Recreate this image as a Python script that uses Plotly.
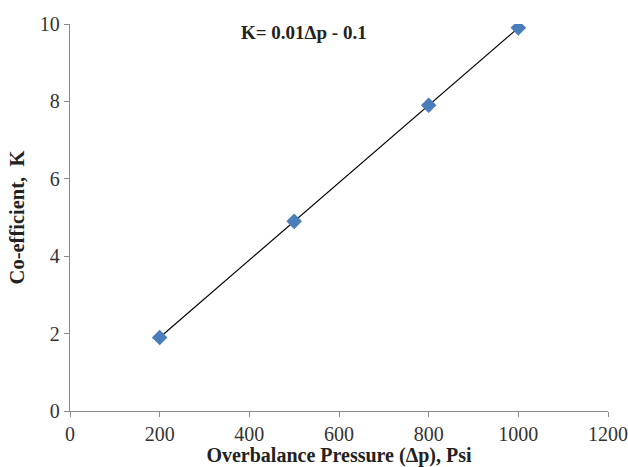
import plotly.graph_objects as go

# Overbalance pressure (psi) and measured coefficient K
pressure = [200, 500, 800, 1000]
coefficient = [1.9, 4.9, 7.9, 9.9]

x_ticks = [0, 200, 400, 600, 800, 1000, 1200]
y_ticks = [0, 2, 4, 6, 8, 10]

serif = "Liberation Serif"

fig = go.Figure()

# Fitted line through the points
fig.add_trace(go.Scatter(
    x=pressure, y=coefficient, mode="lines",
    line=dict(color="black", width=1.2),
    hoverinfo="skip", showlegend=False,
))

# Data points
fig.add_trace(go.Scatter(
    x=pressure, y=coefficient, mode="markers",
    marker=dict(symbol="diamond", size=12, color="#4A7EBB",
                line=dict(color="#4A7EBB", width=0)),
    showlegend=False,
))

axis_common = dict(
    showgrid=False, zeroline=False, showline=True, automargin=False,
    linecolor="#898989", linewidth=1.3,
    ticks="outside", ticklen=5, tickcolor="#898989", tickwidth=1.3,
    tickfont=dict(family=serif, size=20, color="#333333"),
)

fig.update_layout(
    width=628, height=467,
    margin=dict(l=70, r=20, t=24, b=56),
    plot_bgcolor="white", paper_bgcolor="white",
    xaxis=dict(range=[0, 1200], tickvals=x_ticks,
               title=dict(text="<b>Overbalance Pressure (Δp), Psi</b>",
                          font=dict(family=serif, size=20, color="#222222"),
                          standoff=4),
               **axis_common),
    yaxis=dict(range=[0, 10], tickvals=y_ticks,
               title=dict(text="<b>Co-efficient,  K</b>",
                          font=dict(family=serif, size=20.5, color="#222222"),
                          standoff=9),
               **axis_common),
    annotations=[dict(
        text="<b>K= 0.01Δp - 0.1</b>", xref="paper", yref="paper",
        x=0.435, y=1.0, yanchor="middle", xanchor="center", showarrow=False,
        yshift=-8,
        font=dict(family=serif, size=19, color="#222222"),
    )],
)

fig.write_html("out.html")
